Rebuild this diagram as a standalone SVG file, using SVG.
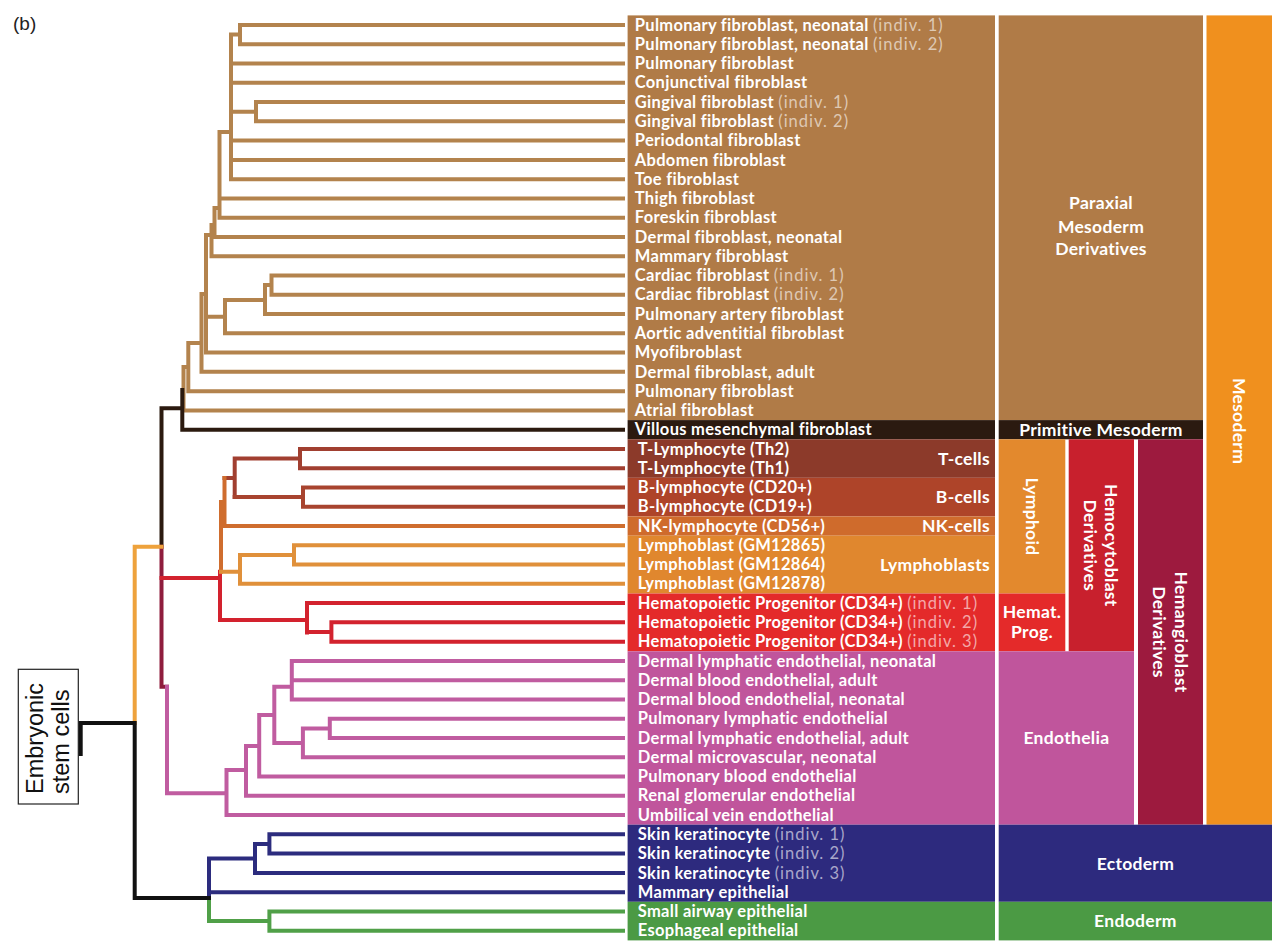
<svg xmlns="http://www.w3.org/2000/svg" width="1285" height="951" viewBox="0 0 1285 951">
<style>
.lb{font-family:Lato,"Open Sans","Liberation Sans",sans-serif;font-size:16.5px;font-weight:700;fill:#ffffff;letter-spacing:0.3px}
.iv{font-weight:400;fill-opacity:0.6;letter-spacing:1px}
.gl{font-family:Lato,"Open Sans","Liberation Sans",sans-serif;font-size:17.5px;font-weight:700;fill:#ffffff;text-anchor:middle;letter-spacing:0.3px}
.ln{fill:none;stroke-width:4;stroke-linecap:square;stroke-linejoin:miter}
.tan{stroke:#b3834d}.dk{stroke:#2b1a0f}.cr{stroke:#8f1d3d}.rd{stroke:#d3222e}.pk{stroke:#c05ca0}
.tc{stroke:#a13f30}.bc{stroke:#a8442f}.nk{stroke:#cf6d2e}.ly{stroke:#e0903a}.or{stroke:#eea23c}
.nv{stroke:#2c2c7e}.gr{stroke:#50a048}.bk{stroke:#111111}
</style>
<rect x="0" y="0" width="1285" height="951" fill="#ffffff"/>
<text x="13" y="30" font-family="Liberation Sans, Arial, sans-serif" font-size="19" fill="#222">(b)</text>

<g id="bands">
<rect x="627.6" y="15.4" width="367.4" height="404.7" fill="#b07b47"/>
<rect x="627.6" y="420.1" width="367.4" height="19.2" fill="#2b1a10"/>
<rect x="627.6" y="439.3" width="367.4" height="38.5" fill="#8c3a2a"/>
<rect x="627.6" y="477.8" width="367.4" height="38.6" fill="#ae4429"/>
<rect x="627.6" y="516.4" width="367.4" height="19.3" fill="#cf6b2c"/>
<rect x="627.6" y="535.7" width="367.4" height="57.8" fill="#e0872e"/>
<rect x="627.6" y="593.5" width="367.4" height="57.8" fill="#e42a2a"/>
<rect x="627.6" y="651.3" width="367.4" height="173.4" fill="#c0559c"/>
<rect x="627.6" y="824.7" width="367.4" height="77.1" fill="#2d2a7e"/>
<rect x="627.6" y="901.8" width="367.4" height="38.6" fill="#4b9a44"/>
</g>

<g id="group-paraxial">
<rect x="998.7" y="15.4" width="204.3" height="404.7" fill="#b07b47"/>
<text class="gl" x="1101" y="209">Paraxial</text>
<text class="gl" x="1101" y="232.5">Mesoderm</text>
<text class="gl" x="1101" y="254.5">Derivatives</text>
</g>
<g id="group-primitive">
<rect x="998.7" y="420.1" width="204.3" height="19.2" fill="#2b1a10"/>
<text class="gl" x="1101" y="436">Primitive Mesoderm</text>
</g>
<g id="group-lymphoid">
<rect x="998.7" y="439.3" width="66.6" height="154.2" fill="#e3892d"/>
<text class="gl" transform="translate(1032,516.4) rotate(90)" y="6">Lymphoid</text>
</g>
<g id="group-hemat">
<rect x="998.7" y="593.5" width="66.6" height="57.8" fill="#e42a2a"/>
<text class="gl" x="1032" y="618">Hemat.</text>
<text class="gl" x="1032" y="638">Prog.</text>
</g>
<g id="group-hemocytoblast">
<rect x="1068.7" y="439.3" width="65.3" height="212" fill="#c8202d"/>
<text class="gl" transform="translate(1111,545.3) rotate(90)" y="6">Hemocytoblast</text>
<text class="gl" transform="translate(1089.5,545.3) rotate(90)" y="6">Derivatives</text>
</g>
<g id="group-endothelia">
<rect x="998.7" y="651.3" width="135.3" height="173.4" fill="#c0559c"/>
<text class="gl" x="1066.4" y="744">Endothelia</text>
</g>
<g id="group-hemangioblast">
<rect x="1138" y="439.3" width="65" height="385.4" fill="#9d1a3e"/>
<text class="gl" transform="translate(1181,632) rotate(90)" y="6">Hemangioblast</text>
<text class="gl" transform="translate(1159,632) rotate(90)" y="6">Derivatives</text>
</g>
<g id="group-mesoderm">
<rect x="1206.5" y="15.4" width="65.5" height="809.3" fill="#f0901e"/>
<text class="gl" transform="translate(1238.5,421) rotate(90)" y="6">Mesoderm</text>
</g>
<g id="group-ectoderm">
<rect x="998.7" y="824.7" width="273.3" height="77.1" fill="#2d2a7e"/>
<text class="gl" x="1135.4" y="869.5">Ectoderm</text>
</g>
<g id="group-endoderm">
<rect x="998.7" y="901.8" width="273.3" height="38.6" fill="#4b9a44"/>
<text class="gl" x="1135.4" y="927">Endoderm</text>
</g>
<g id="subgroups" class="gl" style="text-anchor:end">
<text id="sg-tcells" x="990" y="464.5">T-cells</text>
<text id="sg-bcells" x="990" y="503">B-cells</text>
<text id="sg-nkcells" x="990" y="532">NK-cells</text>
<text id="sg-lymphoblasts" x="990" y="570.5">Lymphoblasts</text>
</g>

<g id="root-node">
<rect x="18.3" y="669.3" width="60" height="134.7" fill="#ffffff" stroke="#222" stroke-width="1.2"/>
<text transform="translate(43,794) rotate(-90)" font-family="Liberation Sans, Arial, sans-serif" font-size="23.5" fill="#111">Embryonic</text>
<text transform="translate(69,794) rotate(-90)" font-family="Liberation Sans, Arial, sans-serif" font-size="23.5" fill="#111">stem cells</text>
</g>

<g id="connectors">
<path class="ln tan" d="M240 25H623M240 44.27H623M240 25V44.27M231 34.6H240M231 34.6V179.16M231 63.54H623M231 82.81H623M231 111.7H256M256 102.08V121.35M256 102.08H623M256 121.35H623M231 140.62H623M231 159.89H623M231 179.16H623M219.5 132H231M219.5 132V217.7M219.5 198.43H623M219.5 217.7H623M214.5 208H219.5M214.5 208V236.97M214.5 236.97H623M211.5 225H214.5M211.5 225V256.24M211.5 256.24H623M206 235H211.5M206 235V352.59M271.5 275.51V294.78M271.5 275.51H623M271.5 294.78H623M265 285.1H271.5M265 285.1V314.05M265 314.05H623M225 300H265M225 300V333.32M225 333.32H623M206 316.7H225M206 352.59H623M201.5 294H206M201.5 294V371.86M201.5 371.86H623M188.3 343H201.5M188.3 343V391.13M188.3 391.13H623M183.5 367H188.3M183.5 367V410.4M183.5 410.4H623"/>
<path class="ln dk" d="M182.3 390V429.67H623M161.5 408.3H182.3M161.5 408.3V546.7"/>
<path class="ln cr" d="M161.5 546.7V686.7H167"/>
<path class="ln rd" d="M161.5 578H220M220 571.7V620M220 620H307M307 603.1V632.4M307 603.1H623M307 632H331.4M331.4 622.37V641.64M331.4 622.37H623M331.4 641.64H623"/>
<path class="ln tc" d="M300 448.94V468.21M300 448.94H623M300 468.21H623M234.7 458.6H300M234.7 458.6V497.1M224.5 478H234.7"/>
<path class="ln bc" d="M303 487.48V506.75M303 487.48H623M303 506.75H623M234.7 497.1H303"/>
<path class="ln nk" d="M224.5 478V526.02H623M221 502H224.5M221 502V571.7"/>
<path class="ln ly" d="M294 545.29V564.56M294 545.29H623M294 564.56H623M240 554.9H294M240 554.9V583.83H623M221 571.7H240"/>
<path class="ln pk" d="M167 686.7V793.3H226.5M291.8 660.91V699.45M291.8 660.91H623M291.8 680.18H623M291.8 699.45H623M274.3 686.7H291.8M274.3 686.7V743M329.8 718.72V737.99M329.8 718.72H623M329.8 737.99H623M302.9 728.4H329.8M302.9 728.4V757.26H623M274.3 743H302.9M259.2 715H274.3M259.2 715V776.53H623M246 746H259.2M246 746V795.8H623M226.5 770H246M226.5 770V815.07H623"/>
<path class="ln nv" d="M269.4 834.34V853.61M269.4 834.34H623M269.4 853.61H623M255 844H269.4M255 844V872.88H623M209 858.5H255M209 858.5V898M209 892.15H623"/>
<path class="ln gr" d="M209 898V921H269.4M269.4 911.42V930.69M269.4 911.42H623M269.4 930.69H623"/>
<path class="ln or" d="M134.7 546.7H161.5M134.7 546.7V723"/>
<path class="ln bk" d="M80.7 754V723H134.7V898H209"/>
</g>

<g id="leaves" class="lb">
<text id="leaf-00" x="634.8" y="30.6">Pulmonary fibroblast, neonatal <tspan class="iv">(indiv. 1)</tspan></text>
<text id="leaf-01" x="634.8" y="49.9">Pulmonary fibroblast, neonatal <tspan class="iv">(indiv. 2)</tspan></text>
<text id="leaf-02" x="634.8" y="69.1">Pulmonary fibroblast</text>
<text id="leaf-03" x="634.8" y="88.4">Conjunctival fibroblast</text>
<text id="leaf-04" x="634.8" y="107.7">Gingival fibroblast <tspan class="iv">(indiv. 1)</tspan></text>
<text id="leaf-05" x="634.8" y="127">Gingival fibroblast <tspan class="iv">(indiv. 2)</tspan></text>
<text id="leaf-06" x="634.8" y="146.2">Periodontal fibroblast</text>
<text id="leaf-07" x="634.8" y="165.5">Abdomen fibroblast</text>
<text id="leaf-08" x="634.8" y="184.8">Toe fibroblast</text>
<text id="leaf-09" x="634.8" y="204">Thigh fibroblast</text>
<text id="leaf-10" x="634.8" y="223.3">Foreskin fibroblast</text>
<text id="leaf-11" x="634.8" y="242.6">Dermal fibroblast, neonatal</text>
<text id="leaf-12" x="634.8" y="261.8">Mammary fibroblast</text>
<text id="leaf-13" x="634.8" y="281.1">Cardiac fibroblast <tspan class="iv">(indiv. 1)</tspan></text>
<text id="leaf-14" x="634.8" y="300.4">Cardiac fibroblast <tspan class="iv">(indiv. 2)</tspan></text>
<text id="leaf-15" x="634.8" y="319.7">Pulmonary artery fibroblast</text>
<text id="leaf-16" x="634.8" y="338.9">Aortic adventitial fibroblast</text>
<text id="leaf-17" x="634.8" y="358.2">Myofibroblast</text>
<text id="leaf-18" x="634.8" y="377.5">Dermal fibroblast, adult</text>
<text id="leaf-19" x="634.8" y="396.7">Pulmonary fibroblast</text>
<text id="leaf-20" x="634.8" y="416">Atrial fibroblast</text>
<text id="leaf-21" x="634.8" y="435.3">Villous mesenchymal fibroblast</text>
<text id="leaf-22" x="637.8" y="454.5">T-Lymphocyte (Th2)</text>
<text id="leaf-23" x="637.8" y="473.8">T-Lymphocyte (Th1)</text>
<text id="leaf-24" x="637.8" y="493.1">B-lymphocyte (CD20+)</text>
<text id="leaf-25" x="637.8" y="512.4">B-lymphocyte (CD19+)</text>
<text id="leaf-26" x="637.8" y="531.6">NK-lymphocyte (CD56+)</text>
<text id="leaf-27" x="637.8" y="550.9">Lymphoblast (GM12865)</text>
<text id="leaf-28" x="637.8" y="570.2">Lymphoblast (GM12864)</text>
<text id="leaf-29" x="637.8" y="589.4">Lymphoblast (GM12878)</text>
<text id="leaf-30" x="637.8" y="608.7">Hematopoietic Progenitor (CD34+) <tspan class="iv">(indiv. 1)</tspan></text>
<text id="leaf-31" x="637.8" y="628">Hematopoietic Progenitor (CD34+) <tspan class="iv">(indiv. 2)</tspan></text>
<text id="leaf-32" x="637.8" y="647.2">Hematopoietic Progenitor (CD34+) <tspan class="iv">(indiv. 3)</tspan></text>
<text id="leaf-33" x="637.8" y="666.5">Dermal lymphatic endothelial, neonatal</text>
<text id="leaf-34" x="637.8" y="685.8">Dermal blood endothelial, adult</text>
<text id="leaf-35" x="637.8" y="705.1">Dermal blood endothelial, neonatal</text>
<text id="leaf-36" x="637.8" y="724.3">Pulmonary lymphatic endothelial</text>
<text id="leaf-37" x="637.8" y="743.6">Dermal lymphatic endothelial, adult</text>
<text id="leaf-38" x="637.8" y="762.9">Dermal microvascular, neonatal</text>
<text id="leaf-39" x="637.8" y="782.1">Pulmonary blood endothelial</text>
<text id="leaf-40" x="637.8" y="801.4">Renal glomerular endothelial</text>
<text id="leaf-41" x="637.8" y="820.7">Umbilical vein endothelial</text>
<text id="leaf-42" x="637.8" y="839.9">Skin keratinocyte <tspan class="iv">(indiv. 1)</tspan></text>
<text id="leaf-43" x="637.8" y="859.2">Skin keratinocyte <tspan class="iv">(indiv. 2)</tspan></text>
<text id="leaf-44" x="637.8" y="878.5">Skin keratinocyte <tspan class="iv">(indiv. 3)</tspan></text>
<text id="leaf-45" x="637.8" y="897.8">Mammary epithelial</text>
<text id="leaf-46" x="637.8" y="917">Small airway epithelial</text>
<text id="leaf-47" x="637.8" y="936.3">Esophageal epithelial</text>
</g>
</svg>
